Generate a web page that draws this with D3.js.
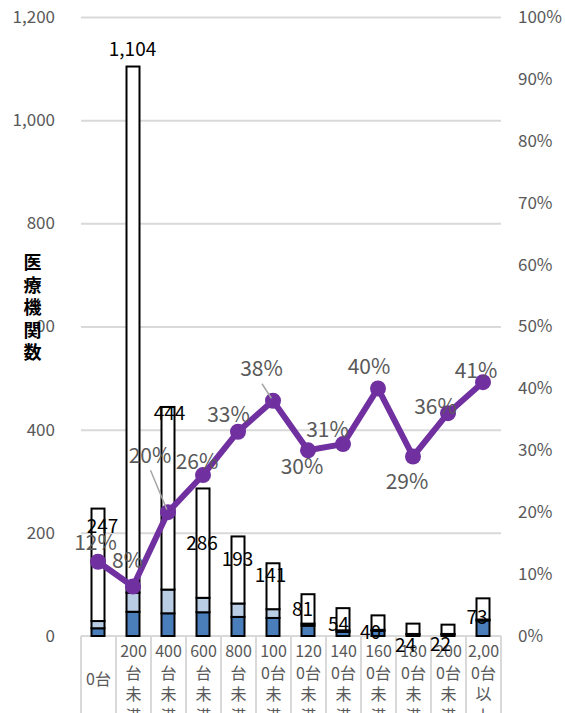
<!DOCTYPE html>
<html>
<head>
<meta charset="utf-8">
<script src="https://cdn.jsdelivr.net/npm/d3@7"></script>
<style>
  html, body { margin: 0; padding: 0; background: #fff; }
  svg { display: block; }
  text { font-family: "Noto Sans CJK JP", "Noto Sans", sans-serif; }
</style>
</head>
<body>
<svg id="chart" width="565" height="713"></svg>
<script>
// Hospital-bed size classes
const categories = ["0台", "200台未満", "400台未満", "600台未満", "800台未満", "1000台未満",
  "1200台未満", "1400台未満", "1600台未満", "1800台未満", "2000台未満", "2,000台以上"];

// Stacked counts of medical institutions per class
const darkVals  = [15, 47, 44, 46, 37, 35, 20, 8, 10, 3, 3, 30];
const lightVals = [14, 37, 46, 28, 26, 17, 4, 3, 2, 1, 1, 2];
const restVals  = [218, 1020, 354, 212, 130, 89, 57, 43, 28, 20, 18, 41];

// Share (right axis)
const shareVals = [0.12, 0.08, 0.20, 0.26, 0.33, 0.38, 0.30, 0.31, 0.40, 0.29, 0.36, 0.41];

const leftTicks = [0, 200, 400, 600, 800, 1000, 1200];
const rightTicks = [0, 0.1, 0.2, 0.3, 0.4, 0.5, 0.6, 0.7, 0.8, 0.9, 1.0];
const yTitle = "医療機関数";

// label placement (pixel nudges from the mark)
const totalLabelNudge = [[4.5, 18], [-0.5, -17.5], [1.5, 6.5], [-1, 55], [-0.5, 23], [-2.5, 12],
  [-5.5, 15], [-4.5, 16.5], [-7.5, 17], [-7.5, 21.5], [-7.5, 20], [-6, 19]];
const shareLabelNudge = [[-2.5, -19], [-5.5, -26], [-18, -57], [-6, -13.5], [-9.5, -17], [-11.5, -32],
  [-6, 16], [-15.5, -14.5], [-9, -22], [-6, 25], [-12.5, -7], [-7, -12]];
const leaderLines = [2, 5];

const svg = d3.select("#chart");
const W = 565, H = 713;
const plot = { left: 81, right: 501, top: 17, bottom: 636 };

const x = d3.scaleBand().domain(categories).range([plot.left, plot.right]).paddingInner(0).paddingOuter(0);
const y = d3.scaleLinear().domain([0, 1200]).range([plot.bottom, plot.top]);
const yr = d3.scaleLinear().domain([0, 1]).range([plot.bottom, plot.top]);

const rows = categories.map((c, i) => ({ cat: c, dark: darkVals[i], light: lightVals[i], rest: restVals[i] }));
const totals = rows.map(r => r.dark + r.light + r.rest);

// gridlines
svg.append("g")
  .attr("transform", `translate(${plot.left},0)`)
  .call(d3.axisLeft(y).tickValues(leftTicks.filter(t => t > 0)).tickSize(-(plot.right - plot.left)).tickFormat(""))
  .call(g => g.select(".domain").remove())
  .call(g => g.selectAll("line").attr("stroke", "#d9d9d9").attr("stroke-width", 2));

// left axis labels
svg.append("g")
  .attr("transform", `translate(55,0)`)
  .call(d3.axisLeft(y).tickValues(leftTicks).tickSize(0).tickPadding(0).tickFormat(d3.format(",")))
  .call(g => g.select(".domain").remove())
  .call(g => g.selectAll("text").attr("fill", "#595959").style("font-size", "17px")
    .style("font-family", "'Noto Sans CJK JP', sans-serif"));

// right axis labels
svg.append("g")
  .attr("transform", `translate(518,0)`)
  .call(d3.axisRight(yr).tickValues(rightTicks).tickSize(0).tickPadding(0).tickFormat(d3.format(".0%")))
  .call(g => g.select(".domain").remove())
  .call(g => g.selectAll("text").attr("fill", "#595959").style("font-size", "17px")
    .style("font-family", "'Noto Sans CJK JP', sans-serif"));

// y-axis title with white backing
svg.append("rect").attr("x", 23).attr("y", 250).attr("width", 14).attr("height", 118).attr("fill", "#fff");
const title = svg.append("text")
  .attr("x", 32.5).attr("y", 269)
  .attr("text-anchor", "middle")
  .attr("fill", "#000")
  .style("font-size", "18px")
  .style("font-weight", "bold");
title.selectAll("tspan").data(yTitle.split("")).join("tspan")
  .attr("x", 32.5).attr("dy", (d, i) => i === 0 ? 0 : 22.6).text(d => d);

// category table
const table = svg.append("g");
table.append("line")
  .attr("x1", plot.left).attr("x2", plot.right).attr("y1", plot.bottom).attr("y2", plot.bottom)
  .attr("stroke", "#d9d9d9").attr("stroke-width", 2);
table.selectAll("line.sep").data(d3.range(categories.length + 1)).join("line")
  .attr("class", "sep")
  .attr("x1", i => plot.left + i * x.bandwidth()).attr("x2", i => plot.left + i * x.bandwidth())
  .attr("y1", plot.bottom).attr("y2", H)
  .attr("stroke", "#d9d9d9").attr("stroke-width", 2);

// wrap category labels into the cell width
const measurer = svg.append("text").style("font-size", "16px").attr("visibility", "hidden");
function textWidth(s) { measurer.text(s); return measurer.node().getComputedTextLength(); }
function wrap(label, maxW) {
  const lines = [];
  let cur = "";
  for (const ch of label) {
    if (cur && textWidth(cur + ch) > maxW) { lines.push(cur); cur = ch; }
    else cur += ch;
  }
  if (cur) lines.push(cur);
  return lines;
}
categories.forEach(c => {
  const lines = wrap(c, 31.5);
  const cx = x(c) + x.bandwidth() / 2;
  const t = table.append("text")
    .attr("text-anchor", "middle").attr("fill", "#595959").style("font-size", "16px");
  const y0 = lines.length === 1 ? 685 : 657;
  lines.forEach((ln, k) => {
    t.append("tspan").attr("x", cx).attr("y", y0 + k * 21.7).text(ln);
  });
});
measurer.remove();

// stacked bars
const stack = d3.stack().keys(["dark", "light", "rest"]);
const series = stack(rows);
const fills = { dark: "#4a7ebb", light: "#b9cde5", rest: "#ffffff" };
const barW = 13;
svg.append("g").selectAll("g").data(series).join("g")
  .attr("fill", s => fills[s.key])
  .selectAll("rect").data(s => s).join("rect")
  .attr("x", d => x(d.data.cat) + x.bandwidth() / 2 - barW / 2 - 0.5)
  .attr("width", barW)
  .attr("y", d => y(d[1]))
  .attr("height", d => y(d[0]) - y(d[1]))
  .attr("stroke", "#000").attr("stroke-width", 2);

// share line
const px = (i) => x(categories[i]) + x.bandwidth() / 2 - 0.5;
const line = d3.line().x((d, i) => px(i)).y(d => yr(d));
svg.append("path").datum(shareVals)
  .attr("d", line).attr("fill", "none")
  .attr("stroke", "#7030a0").attr("stroke-width", 6).attr("stroke-linejoin", "round");
svg.append("g").selectAll("circle").data(shareVals).join("circle")
  .attr("cx", (d, i) => px(i)).attr("cy", d => yr(d)).attr("r", 8)
  .attr("fill", "#7030a0");

// leader lines for displaced share labels
leaderLines.forEach(i => {
  const lx = px(i) + shareLabelNudge[i][0];
  const ly = yr(shareVals[i]) + shareLabelNudge[i][1];
  const sx = lx + 0.5, sy = ly + 15;
  const ex = px(i), ey = yr(shareVals[i]);
  const len = Math.hypot(ex - sx, ey - sy);
  const k = (len - 3) / len;
  svg.append("line")
    .attr("x1", sx).attr("y1", sy)
    .attr("x2", sx + (ex - sx) * k).attr("y2", sy + (ey - sy) * k)
    .attr("stroke", "#a6a6a6").attr("stroke-width", 1.5);
});

// share labels
svg.append("g").selectAll("text").data(shareVals).join("text")
  .attr("x", (d, i) => px(i) + shareLabelNudge[i][0])
  .attr("y", (d, i) => yr(d) + shareLabelNudge[i][1])
  .attr("dy", "0.35em")
  .attr("text-anchor", "middle")
  .attr("fill", "#595959").style("font-size", "21px")
  .text(d => d3.format(".0%")(d));

// total labels
svg.append("g").selectAll("text").data(totals).join("text")
  .attr("x", (d, i) => px(i) + totalLabelNudge[i][0])
  .attr("y", (d, i) => y(d) + totalLabelNudge[i][1])
  .attr("dy", "0.35em")
  .attr("text-anchor", "middle")
  .attr("fill", "#000").style("font-size", "19px")
  .text(d => d3.format(",")(d));
</script>
</body>
</html>
